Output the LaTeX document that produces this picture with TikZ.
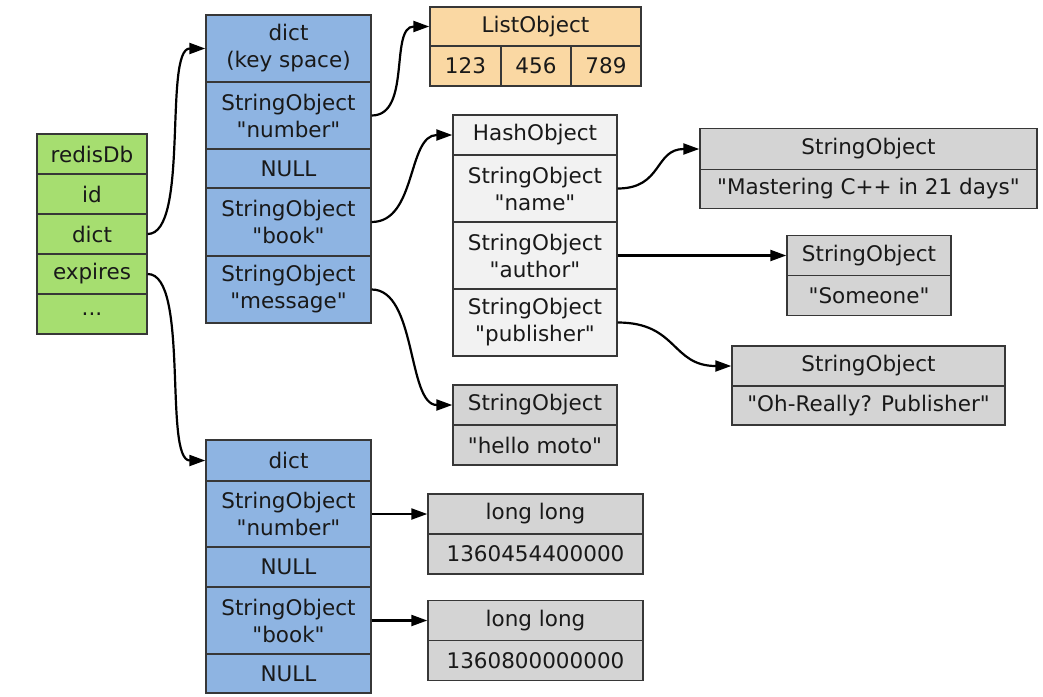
\documentclass[tikz,border=0pt]{standalone}
\usepackage{fontspec}
\setmainfont{DejaVu Sans}[Ligatures=TeXOff]
\usetikzlibrary{arrows.meta}
\newcommand{\dq}{\symbol{34}}
\definecolor{cgreen}{RGB}{166,222,112}
\definecolor{cblue}{RGB}{142,180,226}
\definecolor{corange}{RGB}{250,216,163}
\definecolor{clight}{RGB}{242,242,242}
\definecolor{cgray}{RGB}{212,212,212}
\definecolor{cborder}{RGB}{55,55,55}
\tikzset{
  cell/.style={draw=cborder, line width=1.4pt, inner sep=0pt, align=center,
    font=\fontsize{21.5}{27}\selectfont, text=black!90},
  gcell/.style={cell, fill=cgreen, minimum width=110pt},
  bcell/.style={cell, fill=cblue, minimum width=165pt},
  ocell/.style={cell, fill=corange},
  lcell/.style={cell, fill=clight, minimum width=164pt},
  ycell/.style={cell, fill=cgray},
  link/.style={line width=2.2pt, -{Triangle[length=16pt,width=11pt]}},
}
\begin{document}
\begin{tikzpicture}[x=1pt,y=-1pt]
\useasboundingbox (0,0) rectangle (1043,696);
% redisDb
\node[gcell, minimum height=40pt] (r0) at (92,154) {redisDb};
\node[gcell, minimum height=40pt] (r1) at (92,194) {id};
\node[gcell, minimum height=40pt] (r2) at (92,234) {dict};
\node[gcell, minimum height=40pt] (r3) at (92,274) {expires};
\node[gcell, minimum height=40pt] (r4) at (92,314) {...};
% key space dict
\node[bcell, minimum height=67pt] (k0) at (288.5,48.5) {dict\\(key space)};
\node[bcell, minimum height=67pt] (k1) at (288.5,115.5) {StringObject\\\dq number\dq};
\node[bcell, minimum height=39pt] (k2) at (288.5,168.5) {NULL};
\node[bcell, minimum height=68pt] (k3) at (288.5,222) {StringObject\\\dq book\dq};
\node[bcell, minimum height=67pt] (k4) at (288.5,289.5) {StringObject\\\dq message\dq};
% ListObject
\node[ocell, minimum width=211pt, minimum height=39pt] (L0) at (535.5,26.5) {ListObject};
\node[ocell, minimum width=71pt, minimum height=40pt] (L1) at (465.5,66) {123};
\node[ocell, minimum width=70pt, minimum height=40pt] (L2) at (536,66) {456};
\node[ocell, minimum width=70pt, minimum height=40pt] (L3) at (606,66) {789};
% HashObject
\node[lcell, minimum height=40pt] (h0) at (535,135) {HashObject};
\node[lcell, minimum height=67pt] (h1) at (535,188.5) {StringObject\\\dq name\dq};
\node[lcell, minimum height=67pt] (h2) at (535,255.5) {StringObject\\\dq author\dq};
\node[lcell, minimum height=67pt] (h3) at (535,322.5) {StringObject\\\dq publisher\dq};
% hello moto
\node[ycell, minimum width=164pt, minimum height=40pt] (m0) at (535,405) {StringObject};
\node[ycell, minimum width=164pt, minimum height=40pt] (m1) at (535,445) {\dq hello moto\dq};
% Mastering
\node[ycell, minimum width=337pt, minimum height=41pt] (a0) at (868.5,149) {StringObject};
\node[ycell, minimum width=337pt, minimum height=39pt] (a1) at (868.5,189) {\dq Mastering C++ in 21 days\dq};
% Someone
\node[ycell, minimum width=164pt, minimum height=40pt] (b0) at (869,255.5) {StringObject};
\node[ycell, minimum width=164pt, minimum height=40pt] (b1) at (869,295.5) {\dq Someone\dq};
% Oh-Really
\node[ycell, minimum width=273pt, minimum height=40pt] (c0) at (868.5,366) {StringObject};
\node[ycell, minimum width=273pt, minimum height=39pt] (c1) at (868.5,405.5) {\dq Oh-Really? Publisher\dq};
% expires dict
\node[bcell, minimum height=41pt] (e0) at (288.5,460.5) {dict};
\node[bcell, minimum height=66pt] (e1) at (288.5,514) {StringObject\\\dq number\dq};
\node[bcell, minimum height=40pt] (e2) at (288.5,567) {NULL};
\node[bcell, minimum height=67pt] (e3) at (288.5,620.5) {StringObject\\\dq book\dq};
\node[bcell, minimum height=39pt] (e4) at (288.5,673.5) {NULL};
% long long
\node[ycell, minimum width=215pt, minimum height=40pt] (n0) at (535.5,514) {long long};
\node[ycell, minimum width=215pt, minimum height=40pt] (n1) at (535.5,554) {1360454400000};
\node[ycell, minimum width=215pt, minimum height=40pt] (p0) at (535.5,620.5) {long long};
\node[ycell, minimum width=215pt, minimum height=40pt] (p1) at (535.5,660.5) {1360800000000};
% links
\draw[link] (r2.east) .. controls +(42,0) and +(-42,0) .. (k0.west);
\draw[link] (r3.east) .. controls +(42,0) and +(-42,0) .. (e0.west);
\draw[link] (k1.east) .. controls +(40,0) and +(-40,0) .. (L0.west);
\draw[link] (k3.east) .. controls +(45,0) and +(-45,0) .. (h0.west);
\draw[link] (k4.east) .. controls +(45,0) and +(-45,0) .. (m0.west);
\draw[link] (h1.east) .. controls +(45,0) and +(-45,0) .. (a0.west);
\draw[link] (h2.east) -- (b0.west);
\draw[link] (h3.east) .. controls +(60,0) and +(-60,0) .. (c0.west);
\draw[link] (e1.east) -- (n0.west);
\draw[link] (e3.east) -- (p0.west);
\end{tikzpicture}
\end{document}
